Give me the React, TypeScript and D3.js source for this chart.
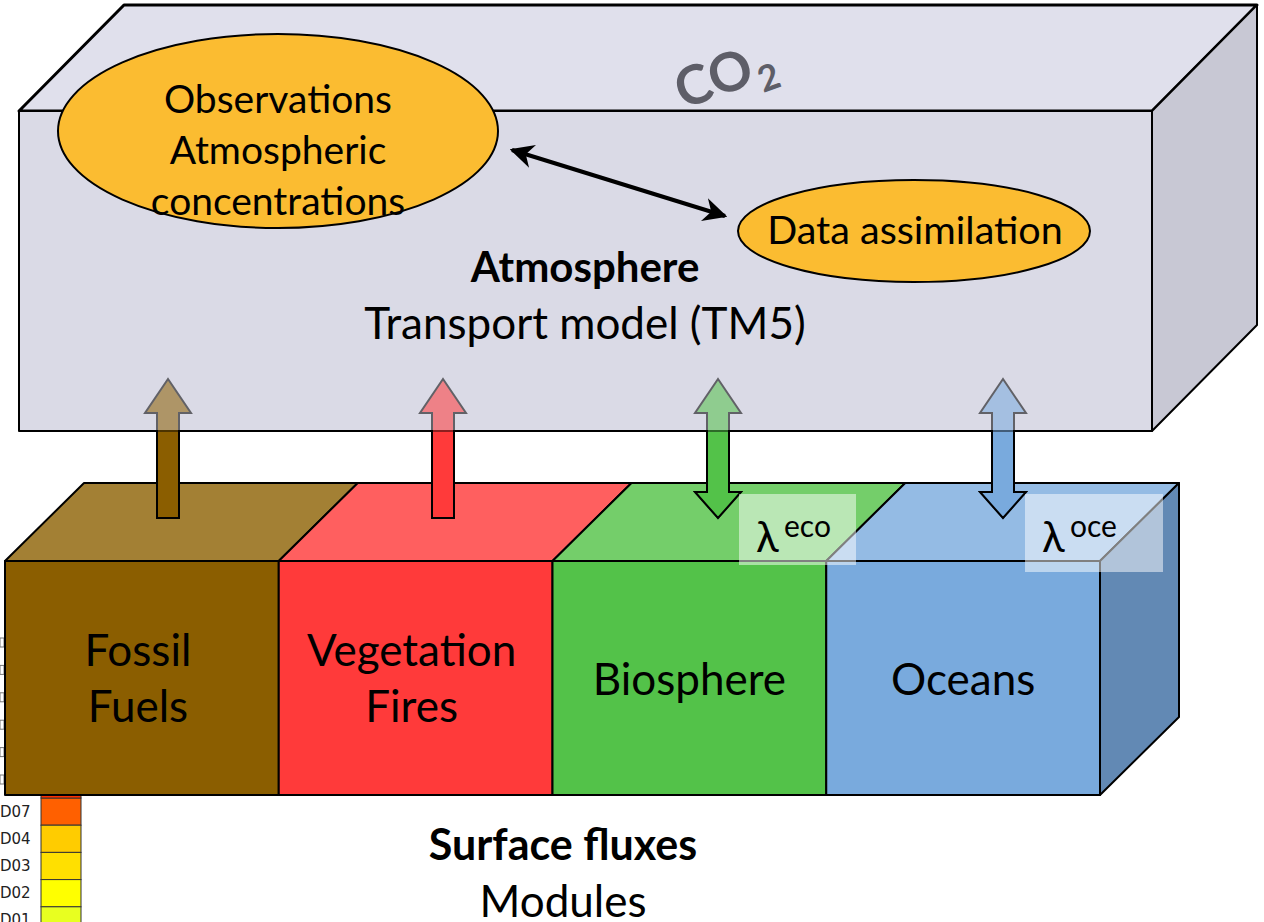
import React from "react";
import * as d3 from "d3";

// surface flux modules, left to right
const modules = ["fossil", "fires", "bio", "ocean"];
const moduleLines = [["Fossil", "Fuels"], ["Vegetation", "Fires"], ["Biosphere"], ["Oceans"]];
const frontColors = ["#8B5E00", "#FF3A3A", "#53C249", "#79AADD"];
const topColors = ["#A38034", "#FF5F5F", "#74CE6A", "#94BBE4"];
const twoWay = [false, false, true, true];
const lambdaLabels = [null, null, "eco", "oce"];

// overlapped colour legend at bottom left
const legendLabels = ["D07", "D04", "D03", "D02", "D01"];
const legendColors = ["#FF6000", "#FFCC00", "#FFE000", "#FFFF00", "#E8FF20"];

const FONT = "Lato, 'Open Sans', sans-serif";

function arrowPath(cx: number, yTop: number, yBot: number, both: boolean) {
  const sw = 11, hw = 23, hh = 34;
  const p = d3.path();
  p.moveTo(cx, yTop);
  p.lineTo(cx + hw, yTop + hh);
  p.lineTo(cx + sw, yTop + hh);
  if (both) {
    p.lineTo(cx + sw, yBot - hh + 8);
    p.lineTo(cx + hw, yBot - hh + 8);
    p.lineTo(cx, yBot);
    p.lineTo(cx - hw, yBot - hh + 8);
    p.lineTo(cx - sw, yBot - hh + 8);
  } else {
    p.lineTo(cx + sw, yBot);
    p.lineTo(cx - sw, yBot);
  }
  p.lineTo(cx - sw, yTop + hh);
  p.lineTo(cx - hw, yTop + hh);
  p.closePath();
  return p.toString();
}

export default function App() {
  const W = 1264, H = 922;
  const x = d3.scaleBand<string>().domain(modules).range([5, 1100]).padding(0);
  const sFront = { top: 561, bottom: 795 };
  const sDepth = { dx: 79, dy: -78 };
  const atm = { x0: 19, x1: 1152, y0: 111, y1: 431, dx: 105, dy: -106 };
  const arrowX = [168, 443, 718, 1003];

  const ly = d3.scaleBand<string>().domain(legendLabels).range([798, 934]).padding(0);

  const pts = (a: number[][]) => a.map(p => p.join(",")).join(" ");

  const arrows = (op: number) => modules.map((m, i) => (
    <path key={m} d={arrowPath(arrowX[i], 379, 518, twoWay[i])}
      fill={frontColors[i]} stroke="#000" strokeWidth={2} strokeLinejoin="miter" opacity={op} />
  ));

  return (
    <svg width={W} height={H} style={{ position: "absolute", left: 0, top: 0 }} fontFamily={FONT}>
      <rect width={W} height={H} fill="#fff" />

      {/* legend peeking from behind */}
      <g>
        {legendLabels.map((l, i) => (
          <g key={l}>
            <rect x={41} y={ly(l)} width={40} height={ly.bandwidth()} fill={legendColors[i]} stroke="#333" strokeWidth={1} />
            <text x={0} y={ly(l)! + ly.bandwidth() / 2 + 5} fontSize={15} fontFamily="DejaVu Sans, sans-serif" fill="#222">{l}</text>
          </g>
        ))}
        <rect x={41} y={790} width={40} height={8} fill="#FF3000" stroke="#333" strokeWidth={1} />
        {d3.range(6).map(k => (
          <rect key={k} x={0} y={638 + k * 27.4} width={4} height={9} fill="none" stroke="#777" strokeWidth={1} />
        ))}
      </g>

      {/* surface box */}
      <g stroke="#000" strokeWidth={2} strokeLinejoin="round">
        {modules.map((m, i) => {
          const a = x(m)!, b = a + x.bandwidth();
          return <polygon key={m} fill={topColors[i]} points={pts([[a, sFront.top], [b, sFront.top], [b + sDepth.dx, sFront.top + sDepth.dy], [a + sDepth.dx, sFront.top + sDepth.dy]])} />;
        })}
        {modules.map((m, i) => (
          <rect key={m} x={x(m)} y={sFront.top} width={x.bandwidth()} height={sFront.bottom - sFront.top} fill={frontColors[i]} />
        ))}
        <polygon fill="#6289B4" points={pts([[1100, sFront.top], [1100 + sDepth.dx, sFront.top + sDepth.dy], [1100 + sDepth.dx, sFront.bottom + sDepth.dy], [1100, sFront.bottom]])} />
      </g>

      {modules.map((m, i) => {
        const cx = x(m)! + x.bandwidth() / 2;
        const lines = moduleLines[i];
        const y0 = lines.length === 2 ? 666 : 695;
        return lines.map((t, k) => (
          <text key={m + k} x={cx - (i < 2 ? 4 : 0)} y={y0 + k * 56} textAnchor="middle" fontSize={44} fill="#000">{t}</text>
        ));
      })}

      {arrows(1)}

      {/* atmosphere box */}
      <g stroke="#000" strokeWidth={2} strokeLinejoin="round">
        <polygon fill="#E0E0EC" strokeWidth={3} points={pts([[atm.x0, atm.y0], [atm.x0 + atm.dx, atm.y0 + atm.dy], [atm.x1 + atm.dx, atm.y0 + atm.dy], [atm.x1, atm.y0]])} />
        <rect x={atm.x0} y={atm.y0} width={atm.x1 - atm.x0} height={atm.y1 - atm.y0} fill="#DADAE6" />
        <polygon fill="#C8C8D4" points={pts([[atm.x1, atm.y0], [atm.x1 + atm.dx, atm.y0 + atm.dy], [atm.x1 + atm.dx, atm.y1 + atm.dy], [atm.x1, atm.y1]])} />
      </g>

      {arrows(0.55)}

      {/* CO2 */}
      <g transform="translate(720,96) rotate(-20)" fill="#5E5E68" fontWeight="bold">
        <text x={0} y={0} textAnchor="middle" fontSize={54}>CO</text>
        <text x={52} y={12} textAnchor="middle" fontSize={36}>2</text>
      </g>

      {/* ellipses */}
      <ellipse cx={278} cy={131} rx={220} ry={97} fill="#FBBC31" stroke="#000" strokeWidth={2} />
      <ellipse cx={914} cy={231} rx={176} ry={51} fill="#FBBC31" stroke="#000" strokeWidth={2} />
      {["Observations", "Atmospheric", "concentrations"].map((t, k) => (
        <text key={t} x={278} y={113 + k * 51} textAnchor="middle" fontSize={39} fill="#000">{t}</text>
      ))}
      <text x={915} y={244} textAnchor="middle" fontSize={39.5} fill="#000">Data assimilation</text>

      {/* two-way link */}
      <defs>
        <marker id="ah" viewBox="0 0 10 10" refX={9} refY={5} markerWidth={6} markerHeight={6} orient="auto-start-reverse">
          <path d="M0,0 L10,5 L0,10 L3,5 Z" fill="#000" />
        </marker>
      </defs>
      <line x1={512} y1={150} x2={725} y2={216} stroke="#000" strokeWidth={4} markerStart="url(#ah)" markerEnd="url(#ah)" />

      <text x={585} y={282} textAnchor="middle" fontSize={42} fontWeight="bold" fill="#000">Atmosphere</text>
      <text x={585} y={339} textAnchor="middle" fontSize={44} fill="#000">Transport model (TM5)</text>

      {/* lambda scaling factors */}
      {modules.map((m, i) => {
        const lab = lambdaLabels[i];
        if (!lab) return null;
        const bx = i === 2 ? 739 : 1025;
        const bw = i === 2 ? 117 : 138;
        const bh = i === 2 ? 71 : 78;
        return (
          <g key={m}>
            <rect x={bx} y={494} width={bw} height={bh} fill="#fff" opacity={0.5} />
            <text x={bx + 17} y={552} fontSize={42} fill="#000">λ</text>
            <text x={bx + 45} y={537} fontSize={30} fill="#000">{lab}</text>
          </g>
        );
      })}

      <text x={563} y={860} textAnchor="middle" fontSize={43} fontWeight="bold" fill="#000">Surface fluxes</text>
      <text x={563} y={917} textAnchor="middle" fontSize={44} fill="#000">Modules</text>
    </svg>
  );
}
